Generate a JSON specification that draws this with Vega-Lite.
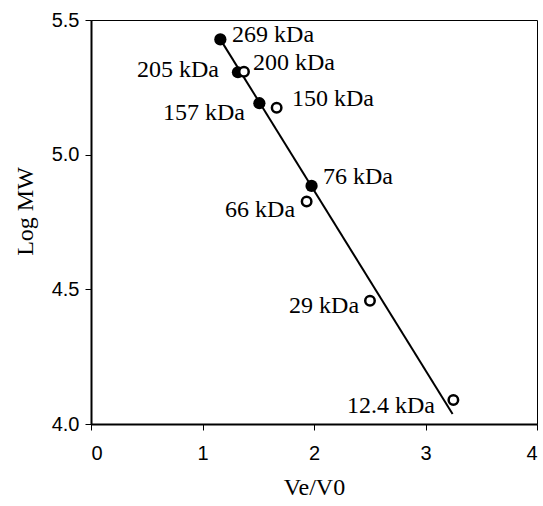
{
  "$schema": "https://vega.github.io/schema/vega-lite/v6.json",
  "width": 446,
  "height": 404,
  "autosize": "none",
  "padding": {"left": 91, "top": 20, "right": 6, "bottom": 82},
  "background": "white",
  "config": {
    "view": {"stroke": "black", "strokeWidth": 1},
    "axis": {
      "grid": false,
      "domainColor": "black",
      "domainWidth": 2,
      "tickColor": "black",
      "tickSize": 6,
      "tickWidth": 1,
      "labelFont": "Liberation Sans",
      "labelFontSize": 20,
      "labelColor": "black",
      "titleFont": "Liberation Serif",
      "titleFontSize": 24,
      "titleFontWeight": "normal",
      "titleColor": "black"
    }
  },
  "datasets": {
    "points": [
      {"label": "269 kDa", "ve": 1.160, "logmw": 5.428, "type": "filled", "lx": 1.265, "ly": 5.419, "side": "right"},
      {"label": "205 kDa", "ve": 1.318, "logmw": 5.306, "type": "filled", "lx": 1.148, "ly": 5.289, "side": "left"},
      {"label": "157 kDa", "ve": 1.510, "logmw": 5.191, "type": "filled", "lx": 1.381, "ly": 5.129, "side": "left"},
      {"label": "76 kDa", "ve": 1.978, "logmw": 4.884, "type": "filled", "lx": 2.081, "ly": 4.891, "side": "right"},
      {"label": "200 kDa", "ve": 1.372, "logmw": 5.308, "type": "open", "lx": 1.453, "ly": 5.314, "side": "right"},
      {"label": "150 kDa", "ve": 1.665, "logmw": 5.174, "type": "open", "lx": 1.803, "ly": 5.181, "side": "right"},
      {"label": "66 kDa", "ve": 1.934, "logmw": 4.826, "type": "open", "lx": 1.830, "ly": 4.767, "side": "left"},
      {"label": "29 kDa", "ve": 2.502, "logmw": 4.458, "type": "open", "lx": 2.404, "ly": 4.412, "side": "left"},
      {"label": "12.4 kDa", "ve": 3.250, "logmw": 4.089, "type": "open", "lx": 3.085, "ly": 4.041, "side": "left"}
    ],
    "fit": [
      {"ve": 1.160, "logmw": 5.428},
      {"ve": 3.243, "logmw": 4.037}
    ]
  },
  "encoding": {
    "x": {
      "field": "ve", "type": "quantitative",
      "scale": {"domain": [0, 4], "nice": false, "zero": false},
      "axis": {"title": "Ve/V0", "values": [0, 1, 2, 3, 4], "format": "d", "labelPadding": 13, "titlePadding": 12}
    },
    "y": {
      "field": "logmw", "type": "quantitative",
      "scale": {"domain": [4, 5.5], "nice": false, "zero": false},
      "axis": {"title": "Log MW", "values": [4, 4.5, 5, 5.5], "format": ".1f", "labelPadding": 6, "titlePadding": 14, "titleY": 191}
    }
  },
  "layer": [
    {
      "data": {"name": "fit"},
      "mark": {"type": "line", "color": "black", "strokeWidth": 2}
    },
    {
      "data": {"name": "points"},
      "transform": [{"filter": "datum.type === 'filled'"}],
      "mark": {"type": "point", "shape": "circle", "filled": true, "color": "black", "size": 150, "opacity": 1}
    },
    {
      "data": {"name": "points"},
      "transform": [{"filter": "datum.type === 'open'"}],
      "mark": {"type": "point", "shape": "circle", "filled": false, "stroke": "black", "fill": "white", "strokeWidth": 2.5, "size": 90, "opacity": 1}
    },
    {
      "data": {"name": "points"},
      "transform": [{"filter": "datum.side === 'right'"}],
      "mark": {"type": "text", "align": "left", "baseline": "alphabetic", "font": "Liberation Serif", "fontSize": 24, "color": "black"},
      "encoding": {
        "x": {"field": "lx", "type": "quantitative"},
        "y": {"field": "ly", "type": "quantitative"},
        "text": {"field": "label"}
      }
    },
    {
      "data": {"name": "points"},
      "transform": [{"filter": "datum.side === 'left'"}],
      "mark": {"type": "text", "align": "right", "baseline": "alphabetic", "font": "Liberation Serif", "fontSize": 24, "color": "black"},
      "encoding": {
        "x": {"field": "lx", "type": "quantitative"},
        "y": {"field": "ly", "type": "quantitative"},
        "text": {"field": "label"}
      }
    }
  ]
}
